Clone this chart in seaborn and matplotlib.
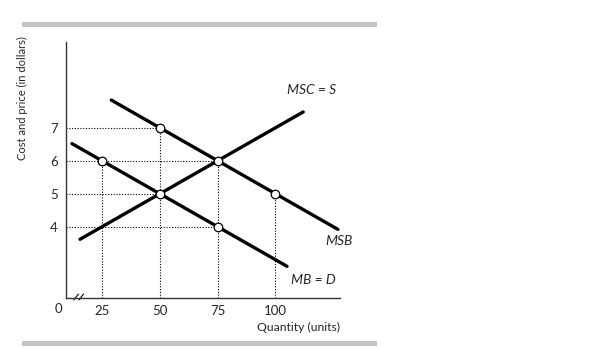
import matplotlib
matplotlib.use("Agg")
import matplotlib.pyplot as plt
from matplotlib.patches import Rectangle
import seaborn as sns
import pandas as pd

# Curves (quantity in units, price in dollars)
msb_q = [29, 50, 75, 100, 127]
msb_p = [7.84, 7, 6, 5, 3.92]
msc_q = [15.5, 50, 75, 112]
msc_p = [3.62, 5, 6, 7.48]
mbd_q = [12, 25, 50, 75, 105]
mbd_p = [6.52, 6, 5, 4, 2.8]

# Marked points
pt_q = [50, 25, 75, 50, 100, 75]
pt_p = [7, 6, 6, 5, 5, 4]

x_ticks = [25, 50, 75, 100]
y_ticks = [4, 5, 6, 7]

# Guide lines: horizontal (price, reaches to quantity), vertical (quantity, from price)
h_guides = [(7, 50), (6, 75), (5, 50), (4, 75)]
v_guides = [(25, 6), (50, 7), (75, 6), (100, 5)]

sns.set_style("white")
plt.rcParams["font.family"] = ["Lato", "DejaVu Sans"]

fig = plt.figure(figsize=(6.15, 3.49), dpi=100)
ax = fig.add_axes([66 / 615, 1 - 298 / 349, 274 / 615, 256 / 349])

curves = pd.concat([
    pd.DataFrame({"q": msb_q, "p": msb_p, "curve": "MSB"}),
    pd.DataFrame({"q": msc_q, "p": msc_p, "curve": "MSC"}),
    pd.DataFrame({"q": mbd_q, "p": mbd_p, "curve": "MB"}),
])

xmin, xmax = 9.43, 127.9
ymin, ymax = 1.84, 9.6

for p, q in h_guides:
    ax.plot([xmin, q], [p, p], color="black", lw=0.8, ls=(0, (1, 1.5)), zorder=1)
for q, p in v_guides:
    ax.plot([q, q], [ymin, p], color="black", lw=0.8, ls=(0, (1, 1.5)), zorder=1)

sns.lineplot(data=curves, x="q", y="p", units="curve", estimator=None,
             color="black", lw=2.4, sort=False, ax=ax, zorder=2)
sns.scatterplot(x=pt_q, y=pt_p, ax=ax, s=38, color="white",
                edgecolor="black", linewidth=0.9, zorder=3)

ax.set_xlim(xmin, xmax)
ax.set_ylim(ymin, ymax)
for side in ["top", "right"]:
    ax.spines[side].set_visible(False)
for side in ["left", "bottom"]:
    ax.spines[side].set_linewidth(1.0)
    ax.spines[side].set_color("#333333")

ax.set_xticks(x_ticks)
ax.set_yticks(y_ticks)
ax.set_xticklabels([str(v) for v in x_ticks], fontsize=9.5)
ax.set_yticklabels([str(v) for v in y_ticks], fontsize=9.5)
ax.tick_params(axis="x", length=0, pad=5)
ax.tick_params(axis="y", direction="in", length=2, width=0.8, pad=6)
ax.set_xlabel("")
ax.set_ylabel("")

# origin and axis break
ax.text(-0.028, -0.02, "0", transform=ax.transAxes, fontsize=9.5,
        ha="center", va="top")
for dx in (13.8, 16.0):
    ax.plot([dx - 1.0, dx + 1.0], [ymin - 0.06, ymin + 0.12],
            color="black", lw=0.8, clip_on=False)

ax.text(127.9, ymin - 0.72, "Quantity (units)", fontsize=8.7, ha="right", va="top")
fig.text(22 / 615, 1 - 98 / 349, "Cost and price (in dollars)", fontsize=8,
         rotation=90, ha="center", va="center")

ax.text(115.4, 8.14, "MSC = S", fontsize=10, style="italic", ha="center", va="center")
ax.text(127.3, 3.56, "MSB", fontsize=10, style="italic", ha="center", va="center")
ax.text(116.3, 2.38, "MB = D", fontsize=10, style="italic", ha="center", va="center")

# grey rules above and below
fig.add_artist(Rectangle((22 / 615, 1 - 27 / 349), 355 / 615, 5 / 349,
                         transform=fig.transFigure, color="#c4c4c4", lw=0))
fig.add_artist(Rectangle((22 / 615, 1 - 346 / 349), 355 / 615, 5 / 349,
                         transform=fig.transFigure, color="#c4c4c4", lw=0))

fig.savefig("out.png", dpi=100)
